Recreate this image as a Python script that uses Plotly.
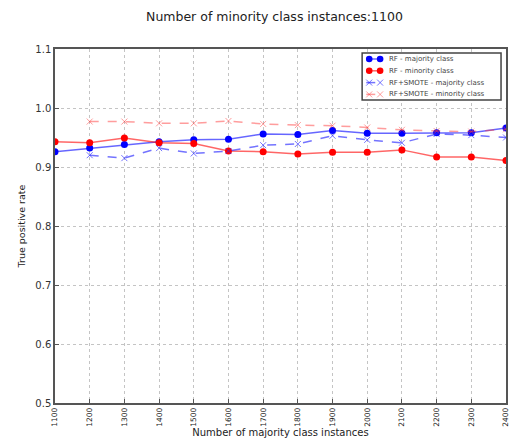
import plotly.graph_objects as go

x_vals = [1100, 1200, 1300, 1400, 1500, 1600, 1700, 1800, 1900, 2000, 2100, 2200, 2300, 2400]
rf_major = [0.926, 0.932, 0.938, 0.943, 0.946, 0.947, 0.956, 0.955, 0.962, 0.957, 0.957, 0.958, 0.958, 0.966]
rf_minor = [0.943, 0.941, 0.949, 0.941, 0.940, 0.927, 0.926, 0.922, 0.925, 0.925, 0.929, 0.917, 0.917, 0.911]
x_smote = [1200, 1300, 1400, 1500, 1600, 1700, 1800, 1900, 2000, 2100, 2200, 2300, 2400]
smote_major = [0.920, 0.915, 0.932, 0.923, 0.927, 0.937, 0.939, 0.953, 0.946, 0.941, 0.956, 0.954, 0.950]
smote_minor = [0.977, 0.977, 0.974, 0.974, 0.978, 0.973, 0.971, 0.970, 0.967, 0.963, 0.961, 0.960, 0.964]
series_names = ["RF - majority class", "RF - minority class",
                "RF+SMOTE - majority class", "RF+SMOTE - minority class"]
x_ticks = list(range(1100, 2401, 100))
y_ticks = [0.5, 0.6, 0.7, 0.8, 0.9, 1.0, 1.1]

FONT = "DejaVu Sans"
BLUE_L = "rgba(0,0,255,0.6)"
RED_L = "rgba(255,0,0,0.6)"
BLUE_D = "rgba(40,40,255,0.65)"
RED_D = "rgba(255,60,60,0.5)"

styles = [
    dict(line=BLUE_L, dash="solid", mcolor="#0000ff", symbol="circle"),
    dict(line=RED_L, dash="solid", mcolor="#ff0000", symbol="circle"),
    dict(line=BLUE_D, dash="dash", mcolor=BLUE_D, symbol="x"),
    dict(line=RED_D, dash="dash", mcolor=RED_D, symbol="x"),
]
data = [(x_vals, rf_major), (x_vals, rf_minor), (x_smote, smote_major), (x_smote, smote_minor)]

fig = go.Figure()
for (xs, ys), name, st in zip(data, series_names, styles):
    if st["symbol"] == "circle":
        marker = dict(color=st["mcolor"], size=7, symbol="circle")
    else:
        marker = dict(color=st["mcolor"], size=6, symbol="x-thin",
                      line=dict(color=st["mcolor"], width=1))
    fig.add_trace(go.Scatter(x=xs, y=ys, mode="lines+markers", name=name,
                             line=dict(color=st["line"], width=1.5, dash=st["dash"]),
                             marker=marker, showlegend=False))

# ---- hand-drawn legend (matplotlib style, compact) ----
shapes = []
annotations = []
box = dict(x0=0.681, x1=0.989, y0=0.856, y1=0.989)
shapes.append(dict(type="rect", xref="paper", yref="paper", **box,
                   line=dict(color="#444444", width=1.5), fillcolor="white", layer="above"))
row_px = [59, 70.8, 82.6, 94.4]
plot_top, plot_h, plot_l, plot_w = 49, 354, 55, 455
def px_to_paper_x(px):
    return (px - plot_l) / plot_w
def px_to_paper_y(py):
    return 1 - (py - plot_top) / plot_h
for name, st, py in zip(series_names, styles, row_px):
    yy = px_to_paper_y(py)
    shapes.append(dict(type="line", xref="paper", yref="paper",
                       x0=px_to_paper_x(369), x1=px_to_paper_x(386), y0=yy, y1=yy,
                       line=dict(color=st["line"], width=1.5, dash="dash" if st["dash"] == "dash" else "solid"),
                       layer="above"))
    for mx in (372, 383):
        ax = px_to_paper_x(mx)
        if st["symbol"] == "circle":
            shapes.append(dict(type="circle", xref="paper", yref="paper",
                               xsizemode="pixel", ysizemode="pixel", xanchor=ax, yanchor=yy,
                               x0=-3.3, x1=3.3, y0=-3.3, y1=3.3,
                               fillcolor=st["mcolor"], line=dict(width=0), layer="above"))
        else:
            for sgn in (1, -1):
                shapes.append(dict(type="line", xref="paper", yref="paper",
                                   xsizemode="pixel", ysizemode="pixel", xanchor=ax, yanchor=yy,
                                   x0=-3, x1=3, y0=-3 * sgn, y1=3 * sgn,
                                   line=dict(color=st["mcolor"], width=1), layer="above"))
    annotations.append(dict(xref="paper", yref="paper", x=px_to_paper_x(390), y=yy,
                            xanchor="left", yanchor="middle", showarrow=False, text=name,
                            font=dict(family=FONT, size=7, color="#444444")))

axis_common = dict(showline=True, linecolor="#555555", linewidth=1.5, mirror=True,
                   ticks="inside", ticklen=4, tickcolor="#555555",
                   showgrid=True, gridcolor="#c4c4c4", griddash="dot", gridwidth=1,
                   zeroline=False)

fig.update_layout(
    width=513, height=445,
    margin=dict(l=55, r=3, t=49, b=42),
    paper_bgcolor="white", plot_bgcolor="white",
    font=dict(family=FONT, size=9, color="#222222"),
    title=dict(text="Number of minority class instances:1100", x=0.535, xanchor="center",
               y=0.962, yanchor="middle", font=dict(family=FONT, size=12.5, color="#222222")),
    showlegend=False,
    shapes=shapes,
    annotations=annotations,
)
fig.update_xaxes(**axis_common, range=[1100, 2400], tickvals=x_ticks,
                 ticktext=[str(v) for v in x_ticks], tickangle=-90,
                 tickfont=dict(family=FONT, size=7.5, color="#222222"),
                 title=dict(text="Number of majority class instances", standoff=1,
                            font=dict(family=FONT, size=10, color="#222222")))
fig.update_yaxes(**axis_common, range=[0.5, 1.1], tickvals=y_ticks,
                 ticktext=[f"{v:.1f}" for v in y_ticks],
                 tickfont=dict(family=FONT, size=10, color="#333333"),
                 title=dict(text="True positive rate", standoff=8,
                            font=dict(family=FONT, size=9.5, color="#222222")))

fig.write_html("out.html")
